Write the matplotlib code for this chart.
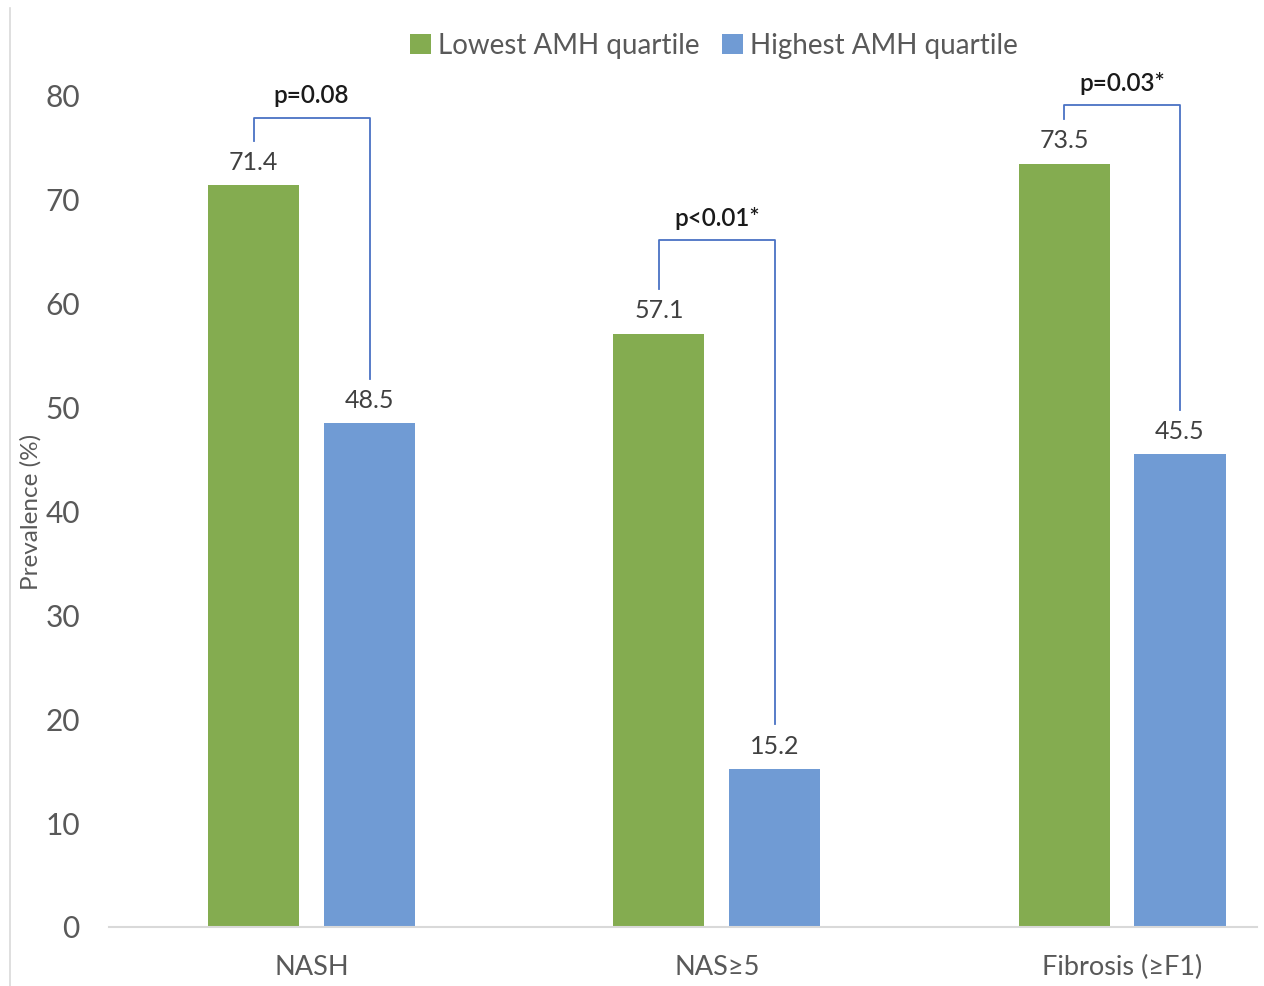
import numpy as np
import matplotlib
matplotlib.use("Agg")
import matplotlib.pyplot as plt
from matplotlib.lines import Line2D

plt.rcParams['font.family'] = ['Lato', 'DejaVu Sans']

categories = ['NASH', 'NAS\u22655', 'Fibrosis (\u2265F1)']
lowest_q = [71.4, 57.1, 73.5]
highest_q = [48.5, 15.2, 45.5]
p_labels = ['p=0.08', 'p<0.01*', 'p=0.03*']
series_names = ['Lowest AMH quartile', 'Highest AMH quartile']

green = '#84AC50'
blue = '#709BD4'
bracket_col = '#4A72C4'
grey_txt = '#595959'

# layout of the bracket annotations (height of the top bar, data units)
bracket_top = [77.9, 66.1, 79.1]
gap_low = 4.3   # space left between value label and bracket foot

fig = plt.figure(figsize=(12.64, 9.86), dpi=100)
ax = fig.add_axes([109 / 1264, 1 - 927 / 986, 1148 / 1264, (927 - 96) / 986])

x = np.arange(len(categories))
w = 0.225
off = 0.143
b1 = ax.bar(x - off, lowest_q, w, color=green, label=series_names[0])
b2 = ax.bar(x + off, highest_q, w, color=blue, label=series_names[1])

for bars, vals in ((b1, lowest_q), (b2, highest_q)):
    for r, v in zip(bars, vals):
        ax.text(r.get_x() + r.get_width() / 2, v + 1.1, f'{v:.1f}',
                ha='center', va='bottom', fontsize=18, color='#404040')

for i in range(len(categories)):
    xl, xr = x[i] - off, x[i] + off
    top = bracket_top[i]
    ax.plot([xl, xl, xr, xr],
            [lowest_q[i] + gap_low, top, top, highest_q[i] + gap_low],
            color=bracket_col, lw=1.3, clip_on=False)
    ax.text((xl + xr) / 2, top + 1.0, p_labels[i], ha='center', va='bottom',
            fontsize=17.5, color='#1a1a1a', fontweight='semibold')

ax.set_xlim(-0.5, 2.333)
ax.set_ylim(0, 80)
ax.set_yticks(range(0, 81, 10))
ax.set_xticks(x)
ax.set_xticklabels(categories)
ax.tick_params(axis='y', length=0, pad=21, labelsize=21.5, labelcolor=grey_txt)
ax.tick_params(axis='x', length=0, pad=20, labelsize=19.5, labelcolor=grey_txt)
for s in ['top', 'right', 'left']:
    ax.spines[s].set_visible(False)
ax.spines['bottom'].set_color('#d9d9d9')
ax.spines['bottom'].set_linewidth(1.5)

ax.set_ylabel('Prevalence (%)', fontsize=17.5, color=grey_txt)
ax.yaxis.set_label_coords(-0.059, 0.5)

ax.legend(loc='center', bbox_to_anchor=(714 / 1264, 1 - 46 / 986),
          bbox_transform=fig.transFigure, ncol=2, frameon=False,
          fontsize=20, labelcolor=grey_txt, handlelength=0.75, handleheight=0.75,
          handletextpad=0.25, columnspacing=0.8)

# chart area border on the left edge
fig.add_artist(Line2D([10 / 1264, 10 / 1264], [1 - 8 / 986, 0.0],
                      transform=fig.transFigure, color='#d9d9d9', lw=1.2))

fig.savefig('out.png', dpi=100)
